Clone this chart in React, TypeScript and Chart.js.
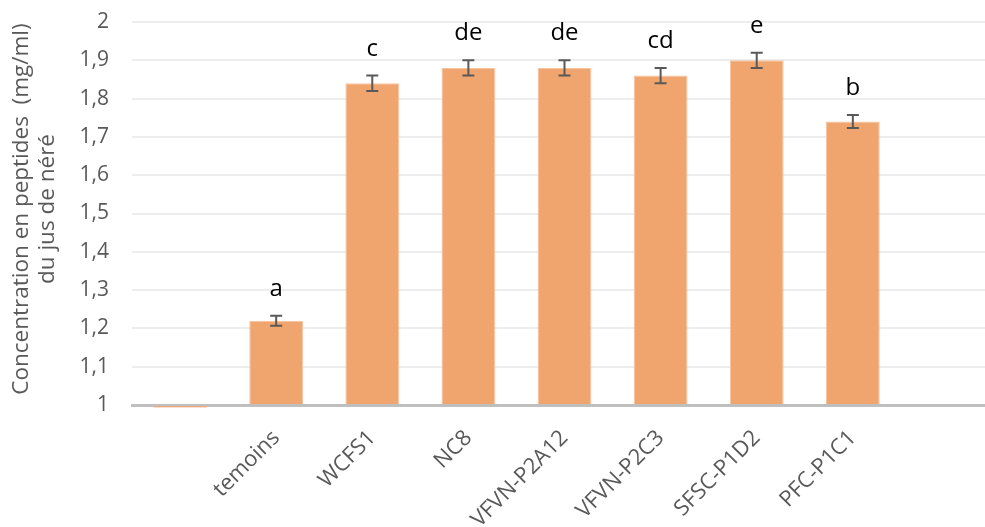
import React, { useEffect, useRef } from 'react';
import { Chart, registerables } from 'chart.js';

Chart.register(...registerables);

const categories = ['', 'temoins', 'WCFS1', 'NC8', 'VFVN-P2A12', 'VFVN-P2C3', 'SFSC-P1D2', 'PFC-P1C1', ''];
const values = [0.993, 1.22, 1.84, 1.88, 1.88, 1.86, 1.9, 1.74, null];
const errors = [null, 0.013, 0.02, 0.02, 0.02, 0.02, 0.02, 0.017, null];
const letters = ['', 'a', 'c', 'de', 'de', 'cd', 'e', 'b', ''];
const yTitleLines = ['Concentration en peptides  (mg/ml)', 'du jus de néré'];

const FONT = '"Open Sans", "Noto Sans", sans-serif';

const errorBarsPlugin = {
  id: 'errorBars',
  afterDatasetsDraw(chart: any) {
    const { ctx, scales } = chart;
    const xs = scales.x;
    const ys = scales.y;
    ctx.save();
    ctx.strokeStyle = '#595959';
    ctx.lineWidth = 2;
    values.forEach((v, i) => {
      const e = errors[i];
      if (v == null || e == null) return;
      const x = xs.getPixelForValue(i);
      const yt = ys.getPixelForValue(v + e);
      const yb = ys.getPixelForValue(v - e);
      ctx.beginPath();
      ctx.moveTo(x, yt);
      ctx.lineTo(x, yb);
      ctx.moveTo(x - 6, yt);
      ctx.lineTo(x + 6, yt);
      ctx.moveTo(x - 6, yb);
      ctx.lineTo(x + 6, yb);
      ctx.stroke();
    });
    ctx.fillStyle = '#000000';
    ctx.font = '24px ' + FONT;
    ctx.textAlign = 'center';
    ctx.textBaseline = 'alphabetic';
    values.forEach((v, i) => {
      const e = errors[i];
      const l = letters[i];
      if (v == null || !l) return;
      const x = xs.getPixelForValue(i);
      const yt = ys.getPixelForValue(v + (e || 0));
      ctx.fillText(l, x, yt - 20);
    });
    ctx.restore();
  },
};

const yTitlePlugin = {
  id: 'yTitle',
  afterDraw(chart: any) {
    const { ctx } = chart;
    ctx.save();
    ctx.fillStyle = '#595959';
    ctx.font = '22.5px ' + FONT;
    ctx.textAlign = 'center';
    ctx.textBaseline = 'middle';
    const xsPos = [22, 48];
    yTitleLines.forEach((t, i) => {
      ctx.save();
      ctx.translate(xsPos[i], 209);
      ctx.rotate(-Math.PI / 2);
      ctx.fillText(t, 0, 0);
      ctx.restore();
    });
    ctx.restore();
  },
};

export default function App() {
  const ref = useRef<HTMLCanvasElement | null>(null);
  useEffect(() => {
    document.body.style.margin = '0';
    document.body.style.overflow = 'hidden';
    const canvas = ref.current;
    if (!canvas) return;
    const chart = new Chart(canvas, {
      type: 'bar',
      data: {
        labels: categories,
        datasets: [
          {
            data: values as any,
            base: 1,
            backgroundColor: 'rgb(241,165,110)',
            borderColor: 'rgba(247,196,160,1)',
            borderWidth: 1,
            categoryPercentage: 1,
            barPercentage: 0.56,
            clip: false as any,
          } as any,
        ],
      },
      options: {
        responsive: false,
        animation: false,
        layout: { padding: { top: 22, right: 3, left: 0, bottom: 0 } },
        plugins: { legend: { display: false }, tooltip: { enabled: false } },
        scales: {
          x: {
            z: 1,
            grid: { display: false },
            border: { display: true, color: '#bfbfbf', width: 3 },
            ticks: {
              autoSkip: false,
              maxRotation: 45,
              minRotation: 45,
              padding: 12,
              color: '#595959',
              font: { family: FONT, size: 22 },
            },
            afterFit(scale: any) {
              scale.height = 122;
            },
          },
          y: {
            min: 1,
            max: 2,
            border: { display: false },
            grid: { color: '#ededed', lineWidth: 2, drawTicks: true, tickLength: 23, tickColor: 'rgba(0,0,0,0)' },
            ticks: {
              stepSize: 0.1,
              padding: 0,
              color: '#595959',
              font: { family: FONT, size: 21 },
              callback: (v: any) => {
                const n = Math.round(Number(v) * 10) / 10;
                return Number.isInteger(n) ? String(n) : n.toFixed(1).replace('.', ',');
              },
            },
            afterFit(scale: any) {
              scale.width = 132;
            },
          },
        },
      },
      plugins: [errorBarsPlugin, yTitlePlugin],
    });
    return () => chart.destroy();
  }, []);
  return (
    <div style={{ width: 985, height: 527, overflow: 'hidden', position: 'relative' }}>
      <canvas ref={ref} width={1000} height={527} style={{ width: 1000, height: 527, display: 'block' }} />
    </div>
  );
}
